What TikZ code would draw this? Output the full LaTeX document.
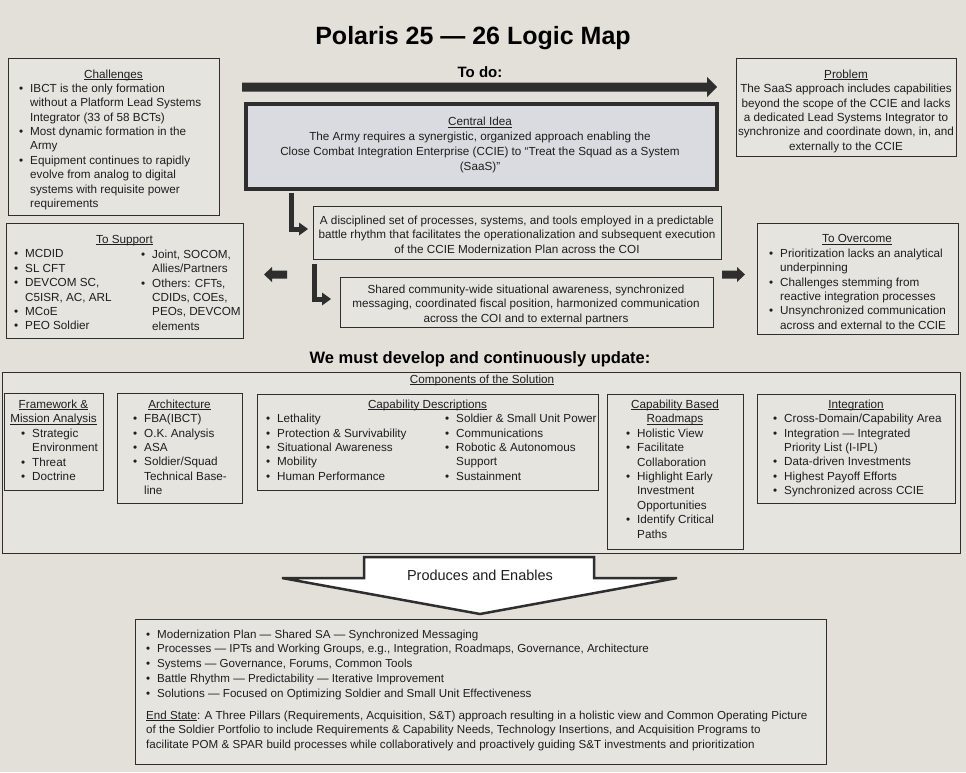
\documentclass[tikz,border=0pt]{standalone}
\usepackage{fontspec}
\setmainfont{Liberation Sans}
\definecolor{bg}{HTML}{E3E0D9}
\definecolor{boxbg}{HTML}{E6E4DF}
\definecolor{cibg}{HTML}{DADAE1}
\definecolor{ln}{HTML}{2E2E2E}
\definecolor{tx}{HTML}{1E1E1E}
\newcommand\fs{\fontsize{11.7}{14.4}\selectfont}
\newcommand\fsb{\fontsize{11.6}{14.7}\selectfont}
\newcommand\bu[1]{\makebox[#1][l]{\textbullet}}
\newcommand\ct[1]{\hspace*{#1}}
\newcommand\ul[1]{\leavevmode\setbox0=\hbox{#1}\rlap{\rule[-1.8pt]{\wd0}{0.7pt}}\box0}
\begin{document}
\begin{tikzpicture}[x=1pt,y=-1pt,
  frame/.style={draw=ln, line width=1pt, fill=boxbg, inner sep=0pt, anchor=north west},
  lst/.style={anchor=north west, inner sep=0pt, align=left, font=\fs, text=tx, yshift=8.4pt},
  ctr/.style={anchor=north, inner sep=0pt, align=center, font=\fs, text=tx, yshift=8.4pt},
  hd/.style={anchor=base, inner sep=0pt, font=\fs, text=tx},
  bold/.style={anchor=base, inner sep=0pt, text=black, font=\fontsize{16.5}{20}\selectfont\bfseries}]
\fill[bg] (0,0) rectangle (966,772);
\useasboundingbox (0,0) rectangle (966,772);

% title
\node[anchor=base, inner sep=0pt, font=\fontsize{25}{30}\selectfont\bfseries] (title) at (473,44) {Polaris 25 — 26 Logic Map};
\node[bold, font=\fontsize{15}{18}\selectfont\bfseries] (todo) at (480,77.5) {To do:};
\node[bold] (must) at (480,363) {We must develop and continuously update:};

% to-do arrow
\coordinate (tdS) at (242,87);
\coordinate (tdE) at (717,87);
\fill[ln] (tdS) ++(0,-4.5) -- ++(465,0) -- ++(0,-5.5) -- (tdE) -- ++(-10,10) -- ++(0,-5.5) -- ++(-465,0) -- cycle;

% frames
\node[frame, minimum width=211pt, minimum height=157pt] (chal) at (8,58) {};
\node[frame, minimum width=220pt, minimum height=98pt] (prob) at (736,58) {};
\node[frame, fill=cibg, line width=4pt, minimum width=471pt, minimum height=85pt] (central) at (244,102) {};
\node[frame, minimum width=408pt, minimum height=53pt] (disc) at (313,206) {};
\node[frame, minimum width=373pt, minimum height=50pt] (shared) at (340,277) {};
\node[frame, minimum width=237pt, minimum height=115pt] (support) at (6,223) {};
\node[frame, minimum width=201pt, minimum height=111pt] (overcome) at (757,223) {};
\node[frame, minimum width=958pt, minimum height=181pt] (comp) at (2,372) {};
\node[frame, minimum width=99pt, minimum height=97pt] (fw) at (4,393) {};
\node[frame, minimum width=125pt, minimum height=110pt] (arch) at (117,393) {};
\node[frame, minimum width=341pt, minimum height=96pt] (capd) at (257,394) {};
\node[frame, minimum width=136pt, minimum height=155pt] (road) at (607,394) {};
\node[frame, minimum width=198pt, minimum height=109pt] (integ) at (757,394) {};
\node[frame, minimum width=691pt, minimum height=145pt] (bottom) at (135,619) {};

% Challenges
\node[hd] (chalT) at (113.5,78) {\ul{Challenges}};
\node[lst] (chalL) at (19,92) {\bu{11pt}IBCT is the only formation\\
\ct{11pt}without a Platform Lead Systems\\
\ct{11pt}Integrator (33 of 58 BCTs)\\
\bu{11pt}Most dynamic formation in the\\
\ct{11pt}Army\\
\bu{11pt}Equipment continues to rapidly\\
\ct{11pt}evolve from analog to digital\\
\ct{11pt}systems with requisite power\\
\ct{11pt}requirements};

% Central idea
\node[ctr, font=\fontsize{11.7}{15}\selectfont] (centralT) at (480,125.5) {\ul{Central Idea}\\
The Army requires a synergistic, organized approach enabling the\\
Close Combat Integration Enterprise (CCIE) to “Treat the Squad as a System\\
(SaaS)”};

% Problem
\node[ctr] (probT) at (846,78) {\ul{Problem}\\
The SaaS approach includes capabilities\\
beyond the scope of the CCIE and lacks\\
a dedicated Lead Systems Integrator to\\
synchronize and coordinate down, in, and\\
externally to the CCIE};

% disciplined
\node[ctr] (discT) at (517,224) {A disciplined set of processes, systems, and tools employed in a predictable\\
battle rhythm that facilitates the operationalization and subsequent execution\\
of the CCIE Modernization Plan across the COI};

% shared
\node[ctr] (sharedT) at (526,293) {Shared community-wide situational awareness, synchronized\\
messaging, coordinated fiscal position, harmonized communication\\
across the COI and to external partners};

% To Support
\node[hd] (supT) at (124.5,243) {\ul{To Support}};
\node[lst] (supL) at (14,258) {\bu{11pt}MCDID\\
\bu{11pt}SL CFT\\
\bu{11pt}DEVCOM SC,\\
\ct{11pt}C5ISR, AC, ARL\\
\bu{11pt}MCoE\\
\bu{11pt}PEO Soldier};
\node[lst] (supR) at (141,258) {\bu{11pt}Joint, SOCOM,\\
\ct{11pt}Allies/Partners\\
\bu{11pt}Others: CFTs,\\
\ct{11pt}CDIDs, COEs,\\
\ct{11pt}PEOs, DEVCOM\\
\ct{11pt}elements};

% To Overcome
\node[hd] (ovT) at (857,242.5) {\ul{To Overcome}};
\node[lst] (ovL) at (769,257) {\bu{11pt}Prioritization lacks an analytical\\
\ct{11pt}underpinning\\
\bu{11pt}Challenges stemming from\\
\ct{11pt}reactive integration processes\\
\bu{11pt}Unsynchronized communication\\
\ct{11pt}across and external to the CCIE};

% elbow arrows
\coordinate (e1s) at (291,193);
\coordinate (e1c) at (300,229);
\coordinate (e1t) at (308,229);
\draw[ln, line width=5pt, line join=miter] (e1s) |- (e1c);
\fill[ln] (e1t) -- ++(-9,-6.5) -- ++(0,13) -- cycle;
\coordinate (e2s) at (314.5,264);
\coordinate (e2c) at (323,299);
\coordinate (e2t) at (331,299);
\draw[ln, line width=5pt, line join=miter] (e2s) |- (e2c);
\fill[ln] (e2t) -- ++(-9,-6.5) -- ++(0,13) -- cycle;

% side arrows
\coordinate (la) at (264,274.5);
\fill[ln] (la) -- ++(8,-7.5) -- ++(0,3.5) -- ++(15,0) -- ++(0,8) -- ++(-15,0) -- ++(0,3.5) -- cycle;
\coordinate (ra) at (745,274.5);
\fill[ln] (ra) -- ++(-8,-7.5) -- ++(0,3.5) -- ++(-15,0) -- ++(0,8) -- ++(15,0) -- ++(0,3.5) -- cycle;

% Components
\node[hd] (compT) at (482,383) {\ul{Components of the Solution}};

\node[hd] (fwT1) at (53.5,408) {\ul{Framework \&}};
\node[hd] (fwT2) at (53.5,422.4) {\ul{Mission Analysis}};
\node[lst] (fwL) at (21,437) {\bu{11pt}Strategic\\
\ct{11pt}Environment\\
\bu{11pt}Threat\\
\bu{11pt}Doctrine};

\node[hd] (archT) at (179.5,408) {\ul{Architecture}};
\node[lst] (archL) at (133,422.4) {\bu{11pt}FBA(IBCT)\\
\bu{11pt}O.K. Analysis\\
\bu{11pt}ASA\\
\bu{11pt}Soldier/Squad\\
\ct{11pt}Technical Base-\\
\ct{11pt}line};

\node[hd] (capdT) at (427.5,408) {\ul{Capability Descriptions}};
\node[lst] (capdL) at (266,422.4) {\bu{11pt}Lethality\\
\bu{11pt}Protection \& Survivability\\
\bu{11pt}Situational Awareness\\
\bu{11pt}Mobility\\
\bu{11pt}Human Performance};
\node[lst] (capdR) at (445,422.4) {\bu{11pt}Soldier \& Small Unit Power\\
\bu{11pt}Communications\\
\bu{11pt}Robotic \& Autonomous\\
\ct{11pt}Support\\
\bu{11pt}Sustainment};

\node[hd] (roadT1) at (675,408) {\ul{Capability Based}};
\node[hd] (roadT2) at (675,422.4) {\ul{Roadmaps}};
\node[lst] (roadL) at (626,437) {\bu{11pt}Holistic View\\
\bu{11pt}Facilitate\\
\ct{11pt}Collaboration\\
\bu{11pt}Highlight Early\\
\ct{11pt}Investment\\
\ct{11pt}Opportunities\\
\bu{11pt}Identify Critical\\
\ct{11pt}Paths};

\node[hd] (integT) at (856,408) {\ul{Integration}};
\node[lst] (integL) at (773,422.4) {\bu{11pt}Cross-Domain/Capability Area\\
\bu{11pt}Integration — Integrated\\
\ct{11pt}Priority List (I-IPL)\\
\bu{11pt}Data-driven Investments\\
\bu{11pt}Highest Payoff Efforts\\
\bu{11pt}Synchronized across CCIE};

% Produces and Enables arrow
\coordinate (pTip) at (480,614);
\draw[ln, fill=white, line width=2.5pt, line join=miter] (364,557) -- (594,557) -- (594,578) -- (677,578) -- (pTip) -- (282,578) -- (364,578) -- cycle;
\node[anchor=base, inner sep=0pt, text=tx, font=\fontsize{14.5}{17}\selectfont] (prod) at (480,580) {Produces and Enables};

% bottom box
\node[lst, font=\fsb] (botL) at (146,638) {\bu{11pt}Modernization Plan — Shared SA — Synchronized Messaging\\
\bu{11pt}Processes — IPTs and Working Groups, e.g., Integration, Roadmaps, Governance, Architecture\\
\bu{11pt}Systems — Governance, Forums, Common Tools\\
\bu{11pt}Battle Rhythm — Predictability — Iterative Improvement\\
\bu{11pt}Solutions — Focused on Optimizing Soldier and Small Unit Effectiveness};
\node[lst, font=\fsb] (endL) at (146,719) {\ul{End State}: A Three Pillars (Requirements, Acquisition, S\&T) approach resulting in a holistic view and Common Operating Picture\\
of the Soldier Portfolio to include Requirements \& Capability Needs, Technology Insertions, and Acquisition Programs to\\
facilitate POM \& SPAR build processes while collaboratively and proactively guiding S\&T investments and prioritization};
\end{tikzpicture}
\end{document}
